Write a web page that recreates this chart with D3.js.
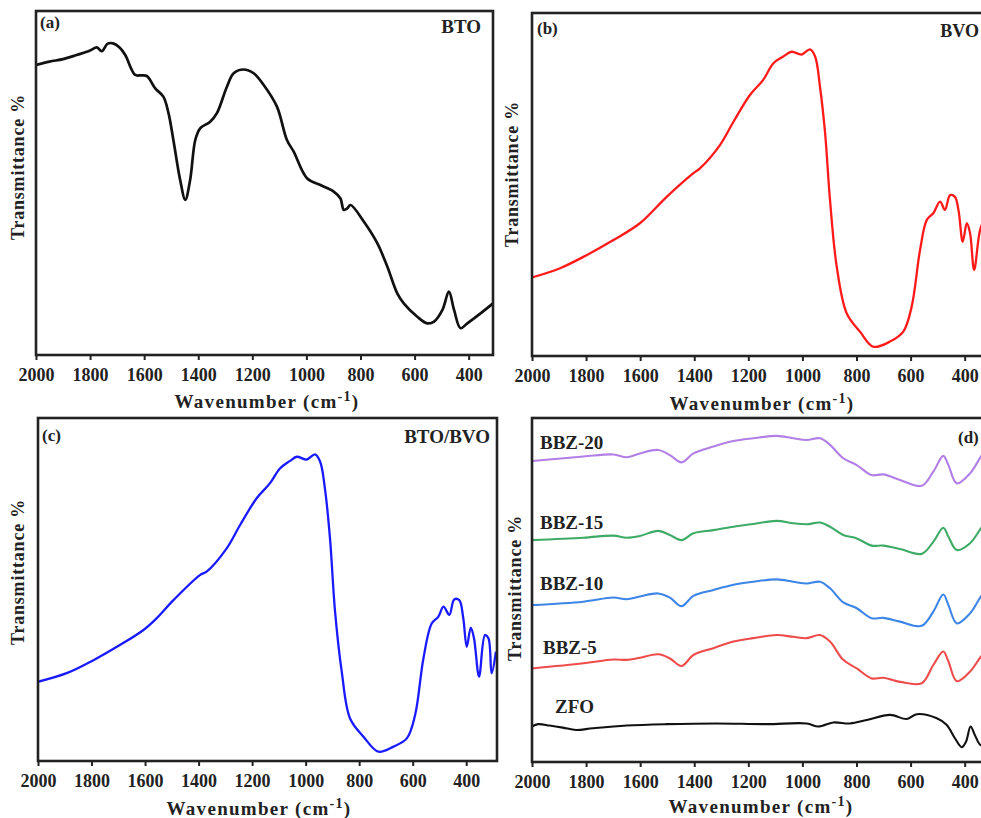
<!DOCTYPE html>
<html>
<head>
<meta charset="utf-8">
<script src="https://cdn.jsdelivr.net/npm/d3@7"></script>
<style>
body{margin:0;background:#fff;}
svg{display:block;}
text{font-family:"Liberation Serif","Times New Roman",serif;font-weight:bold;fill:#222;}
</style>
</head>
<body>
<script>
// wavenumber ticks shared by every panel
var tickVals = [2000,1800,1600,1400,1200,1000,800,600,400];

// (a) BTO
var btoWave = [2000,1950,1900,1850,1800,1775,1757,1735,1715,1690,1670,1633,1610,1590,1559,1529,1510,1492,1467,1448,1430,1411,1393,1356,1331,1294,1269,1232,1195,1158,1109,1072,1047,998,948,899,874,862,849,837,788,738,701,664,640,590,553,528,497,473,454,430,405,356,310];
var btoT    = [84.3,85.3,86,87.2,88.5,89.4,88.3,90.5,90.6,89.3,87.2,81.4,81.3,81.1,77.5,75.1,70.3,62.5,50.9,45.1,50.9,62.5,65.9,67.8,70.3,78,81.9,83,81.9,78.5,72.2,62.5,59.1,51.4,49.4,47.5,45.5,42.2,42.6,43.6,38.8,32.5,25.7,17.9,15,11.1,9.2,9.7,13.1,18.4,13.1,7.8,9.2,12.1,15];

// (b) BVO
var bvoWave = [2000,1896,1798,1699,1601,1502,1403,1379,1305,1255,1194,1145,1108,1071,1040,1003,972,953,935,916,898,873,836,787,738,676,627,596,565,540,516,491,473,454,436,423,407,392,380,365,343,325,310];
var bvoT    = [22.9,25.6,29.4,33.8,38.7,46.4,53.3,54.7,61.5,68.3,76.1,80.5,85.3,87.3,88.7,87.9,89.4,87.3,78.5,64.9,45.5,26,12.4,7.1,2.7,4.2,7.1,14.4,30.9,39.7,41.6,45,42.6,46.9,46.4,42.6,33.3,38.7,35.8,25.1,36.7,40,36];

// (c) BTO/BVO
var mixWave = [2000,1893,1793,1694,1606,1557,1494,1395,1370,1295,1245,1183,1133,1096,1058,1033,996,965,946,928,909,890,865,834,784,728,672,622,591,560,529,504,485,463,445,426,411,398,383,371,352,330,317,305,289];
var mixT    = [23.1,25.6,29.4,33.8,38.2,41.6,46.9,54.2,55.2,62,68.8,76.6,81,85.3,87.5,88.7,87.9,89.4,87.3,79.5,64.9,43.5,26,12.4,7.1,2.7,4.2,6.6,13.4,29.9,40.1,42.1,45,42.6,47.1,46.9,41.6,33.3,38.9,35.8,24.6,36.7,35.8,25.6,31.9];

// (d) composites, shared wavenumbers
var bbzWave = [2000,1810,1699,1650,1601,1533,1490,1447,1403,1329,1255,1182,1095,1034,984,935,898,849,799,744,701,639,559,516,479,460,429,380,340,310];
var bbz20 = [87.5,88.8,89.4,88.6,89.7,90.7,89.2,87.1,89.7,91.7,93.3,94.1,94.8,94.1,93.6,94.1,92.2,88.3,86.3,83.4,83.6,82,80.3,84.4,89,86.3,81,83.9,88.8,92];
var bbz15 = [64.5,65.2,65.8,65.2,65.7,67.2,66,64.5,66.5,67.4,68.4,69.2,70.1,69.4,69.1,69.6,68.4,66,65,62.9,62.9,61.9,60.5,64,68.1,65.5,61.6,63.6,67.9,71];
var bbz10 = [45.6,46.6,47.8,47.3,48.1,49,47.8,45.3,48.3,50,51.5,52.4,53.1,52.4,51.9,52.4,50.5,46.4,44.7,41.8,41.9,40.8,39.6,43.7,48.7,45.6,40.3,43.2,48.1,51];
var bbz5  = [27.2,28.7,29.8,29.7,30.3,31.3,30.1,27.9,31.1,33.1,35,36,36.9,36.4,36,36.9,35,29.7,27.2,24.3,24.5,23.3,22.9,28.2,32.1,29.2,23.5,26.3,30.6,33];
var zfoWave = [2000,1978,1935,1886,1837,1775,1650,1502,1317,1133,984,941,886,824,762,676,614,577,503,467,436,411,395,378,362,340,310];
var zfoT    = [10.3,11,10.6,10,9.3,9.8,10.6,11,11.2,11,11.2,10.3,11.5,11.2,12.2,13.7,12.5,13.9,12.7,10.8,6.9,4.3,5.9,10.3,7.8,4.9,8];

var bbzNames = ["BBZ-20","BBZ-15","BBZ-10","BBZ-5","ZFO"];

var svg = d3.select("body").append("svg").attr("width",981).attr("height",818);

function zip(w,t){ return w.map(function(d,i){ return [d,t[i]]; }); }

function panel(p){
  var x = d3.scaleLinear().domain([2000,p.xEnd]).range([p.left,p.right]);
  var y = d3.scaleLinear().domain([0,100]).range([p.bottom,p.top]);
  var g = svg.append("g");
  var clipId = "clip"+p.id;
  g.append("clipPath").attr("id",clipId).append("rect")
    .attr("x",p.left).attr("y",p.top).attr("width",p.right-p.left).attr("height",p.bottom-p.top);
  var line = d3.line().x(function(d){return x(d[0]);}).y(function(d){return y(d[1]);})
    .curve(d3.curveCatmullRom.alpha(0.5));
  p.series.forEach(function(s){
    g.append("path").attr("clip-path","url(#"+clipId+")")
      .attr("fill","none").attr("stroke",s.color).attr("stroke-width",s.w||2.2)
      .attr("stroke-linejoin","round").attr("d",line(s.data));
  });
  // axis
  var ax = g.append("g").attr("transform","translate(0,"+p.bottom+")")
    .call(d3.axisBottom(x).tickValues(tickVals).tickFormat(d3.format("d"))
      .tickSize(5).tickPadding(8).tickSizeOuter(0));
  ax.select(".domain").remove();
  ax.selectAll(".tick line").attr("stroke","#222").attr("stroke-width",2);
  ax.selectAll(".tick text").attr("fill","#222").style("font-size","18px");
  g.append("rect").attr("x",p.left).attr("y",p.top)
    .attr("width",p.right-p.left).attr("height",p.bottom-p.top)
    .attr("fill","none").attr("stroke","#222").attr("stroke-width",2.6);
  // titles
  var xt = g.append("text").attr("x",p.xtX).attr("y",p.xtY).attr("text-anchor","middle")
    .style("font-size","19px").style("letter-spacing","1.3px");
  xt.append("tspan").text("Wavenumber (cm");
  xt.append("tspan").attr("dy",-7).style("font-size","14px").text("-1");
  xt.append("tspan").attr("dy",7).text(")");
  g.append("text").attr("transform","translate("+p.ytX+","+p.ytY+") rotate(-90)")
    .attr("text-anchor","middle").style("font-size","18px").style("letter-spacing","0.8px")
    .text("Transmittance %");
  p.labels.forEach(function(l){
    g.append("text").attr("x",l.x).attr("y",l.y).attr("text-anchor",l.anchor||"start")
      .style("font-size",(l.size||18)+"px").text(l.text);
  });
}

panel({id:"a",left:36,right:493,top:11,bottom:355,xEnd:310,
  series:[{color:"#111",w:2.7,data:zip(btoWave,btoT)}],
  xtX:267,xtY:408,ytX:24,ytY:167,
  labels:[{text:"(a)",x:40,y:28,size:17},{text:"BTO",x:481,y:33,anchor:"end",size:19}]});

panel({id:"b",left:532,right:989,top:13,bottom:356,xEnd:310,
  series:[{color:"#ff1a1a",w:2.3,data:zip(bvoWave,bvoT)}],
  xtX:762,xtY:410,ytX:518,ytY:174,
  labels:[{text:"(b)",x:537,y:34,size:17},{text:"BVO",x:979,y:37,anchor:"end",size:18}]});

panel({id:"c",left:38,right:497,top:418,bottom:761,xEnd:285,
  series:[{color:"#1a1aff",w:2.3,data:zip(mixWave,mixT)}],
  xtX:259,xtY:815,ytX:24,ytY:572,
  labels:[{text:"(c)",x:42,y:441,size:17},{text:"BTO/BVO",x:490,y:443,anchor:"end",size:19}]});

var dColors = ["#b27fe6","#3daa66","#3d85e6","#ee4b4b","#111"];
var dSets = [bbz20,bbz15,bbz10,bbz5];
var dSeries = dSets.map(function(v,i){ return {color:dColors[i],w:2.1,data:zip(bbzWave,v)}; });
dSeries.push({color:dColors[4],w:2.1,data:zip(zfoWave,zfoT)});
var dLabelY = [449,529,590,654,713];
var dLabelX = [540,540,540,543,555];
var dLabels = bbzNames.map(function(n,i){ return {text:n,x:dLabelX[i],y:dLabelY[i],size:19}; });
dLabels.push({text:"(d)",x:958,y:443,size:17});

panel({id:"d",left:532,right:989,top:418,bottom:762,xEnd:310,
  series:dSeries,
  xtX:761,xtY:813,ytX:521,ytY:588,
  labels:dLabels});
</script>
</body>
</html>
